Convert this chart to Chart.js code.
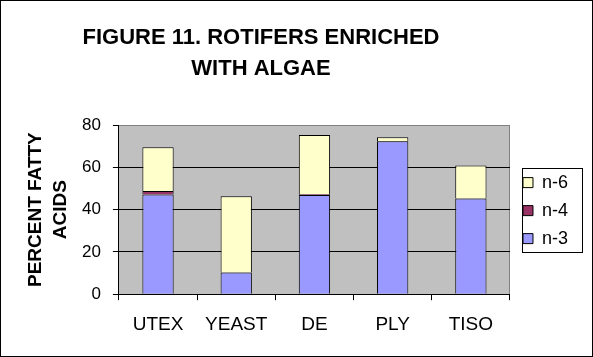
<!DOCTYPE html>
<html>
<head>
<meta charset="utf-8">
<script src="https://cdn.jsdelivr.net/npm/chart.js@4/dist/chart.umd.min.js"></script>
<style>
  html, body { margin: 0; padding: 0; background: #fff; }
  #wrap { width: 593px; height: 357px; position: relative; }
</style>
</head>
<body>
<div id="wrap"><canvas id="c" width="593" height="357"></canvas></div>
<script>
const categories = ['UTEX', 'YEAST', 'DE', 'PLY', 'TISO'];
const n3Values = [47.2, 10.3, 46.9, 72.3, 45.3];
const n4Values = [1.6, 0, 0.4, 0, 0];
const n6Values = [20.7, 36.0, 28.0, 1.9, 15.6];
const yTicks = [0, 20, 40, 60, 80];
const titleLines = ['FIGURE 11. ROTIFERS ENRICHED', 'WITH ALGAE'];
const yTitleLines = ['PERCENT FATTY', 'ACIDS'];

const FONT = "'Liberation Sans', Arial, sans-serif";
const LEG_DX = 3, LEG_DY = 1;

const frame = {
  id: 'frame',
  afterInit(chart) {
    const lg = chart.legend;
    if (!lg || lg._patched) return;
    lg._patched = true;
    const origFit = lg.fit.bind(lg);
    lg.fit = function () { origFit(); if (!this.isHorizontal()) this.width += LEG_DX; };
    const origDraw = lg.draw.bind(lg);
    lg.draw = function (a) {
      const c = this.ctx; c.save(); c.translate(LEG_DX, LEG_DY); origDraw(a); c.restore();
    };
  },
  afterLayout(chart) {
    const t = chart.titleBlock, lg = chart.legend;
    if (t && lg) {
      t.left = 0;
      t.right = Math.round(lg.left + LEG_DX + 10 - 1);
      t.width = t.right - t.left;
    }
  },
  beforeDraw(chart) {
    const { ctx, chartArea: a, width, height } = chart;
    ctx.save();
    ctx.fillStyle = '#ffffff';
    ctx.fillRect(0, 0, width, height);
    ctx.strokeStyle = '#000';
    ctx.lineWidth = 1;
    ctx.strokeRect(0.5, 0.5, width - 1, height - 1);
    ctx.fillStyle = '#C0C0C0';
    ctx.fillRect(a.left, a.top, a.right - a.left, a.bottom - a.top);
    ctx.strokeStyle = '#808080';
    ctx.beginPath();
    ctx.moveTo(Math.round(a.right) - 0.5, a.top);
    ctx.lineTo(Math.round(a.right) - 0.5, a.bottom);
    ctx.stroke();
    ctx.restore();
  },
  afterDraw(chart) {
    const boxes = chart.legend && chart.legend.legendHitBoxes;
    if (!boxes || !boxes.length) return;
    let l = Infinity, t = Infinity, b = -Infinity;
    boxes.forEach(h => {
      l = Math.min(l, h.left); t = Math.min(t, h.top);
      b = Math.max(b, h.top + h.height);
    });
    l += LEG_DX; t += LEG_DY; b += LEG_DY;
    const ctx = chart.ctx;
    ctx.save();
    ctx.strokeStyle = '#000';
    ctx.lineWidth = 1;
    const x0 = Math.round(l - 1), y0 = Math.round(t - 5.5), y1 = Math.round(b + 4.5);
    ctx.strokeRect(x0 + 0.5, y0 + 0.5, 60, y1 - y0);
    ctx.restore();
  }
};

const bw = ctx => (ctx.raw ? 1 : 0);

new Chart(document.getElementById('c'), {
  type: 'bar',
  data: {
    labels: categories,
    datasets: [
      { label: 'n-3', data: n3Values, backgroundColor: '#9999FF', borderColor: '#000', borderWidth: bw, borderSkipped: 'start' },
      { label: 'n-4', data: n4Values, backgroundColor: '#993366', borderColor: '#000', borderWidth: bw, borderSkipped: 'start' },
      { label: 'n-6', data: n6Values, backgroundColor: '#FFFFCC', borderColor: '#000', borderWidth: bw, borderSkipped: 'start' }
    ]
  },
  options: {
    responsive: false,
    animation: false,
    devicePixelRatio: 1,
    layout: { padding: { left: 19, right: 15, top: 0, bottom: 8 } },
    datasets: { bar: { barPercentage: 0.4, categoryPercentage: 1.0 } },
    plugins: {
      title: {
        display: true,
        text: titleLines,
        color: '#000',
        font: { family: FONT, size: 22, weight: 'bold', lineHeight: 1.41 },
        padding: { top: 22, bottom: 41 }
      },
      legend: {
        display: true,
        position: 'right',
        fullSize: false,
        reverse: true,
        labels: {
          color: '#000',
          font: { family: FONT, size: 18 },
          boxWidth: 10,
          boxHeight: 10,
          padding: 10,
          generateLabels(chart) {
            return chart.data.datasets.map((ds, i) => ({
              text: ds.label,
              fillStyle: ds.backgroundColor,
              strokeStyle: '#000',
              lineWidth: 1,
              hidden: false,
              datasetIndex: i
            }));
          }
        }
      },
      tooltip: { enabled: false }
    },
    scales: {
      x: {
        stacked: true,
        border: { display: true, color: '#000', width: 1 },
        grid: { display: true, offset: true, drawOnChartArea: false, drawTicks: true, tickLength: 6, color: '#000' },
        ticks: { color: '#000', font: { family: FONT, size: 19 }, padding: 13, maxRotation: 0 }
      },
      y: {
        stacked: true,
        min: 0,
        max: 80,
        afterBuildTicks(axis) { axis.ticks = yTicks.map(v => ({ value: v })); },
        border: { display: true, color: '#000', width: 1 },
        grid: {
          color: c => (c.tick && c.tick.value === 80 ? '#808080' : '#000'),
          tickColor: '#000',
          tickLength: 6,
          drawTicks: true
        },
        ticks: { color: '#000', font: { family: FONT, size: 17 }, padding: 12 },
        title: {
          display: true,
          text: yTitleLines,
          color: '#000',
          font: { family: FONT, size: 19, weight: 'bold', lineHeight: 1.316 },
          padding: { top: 4, bottom: -3 }
        }
      }
    }
  },
  plugins: [frame]
});
</script>
</body>
</html>
